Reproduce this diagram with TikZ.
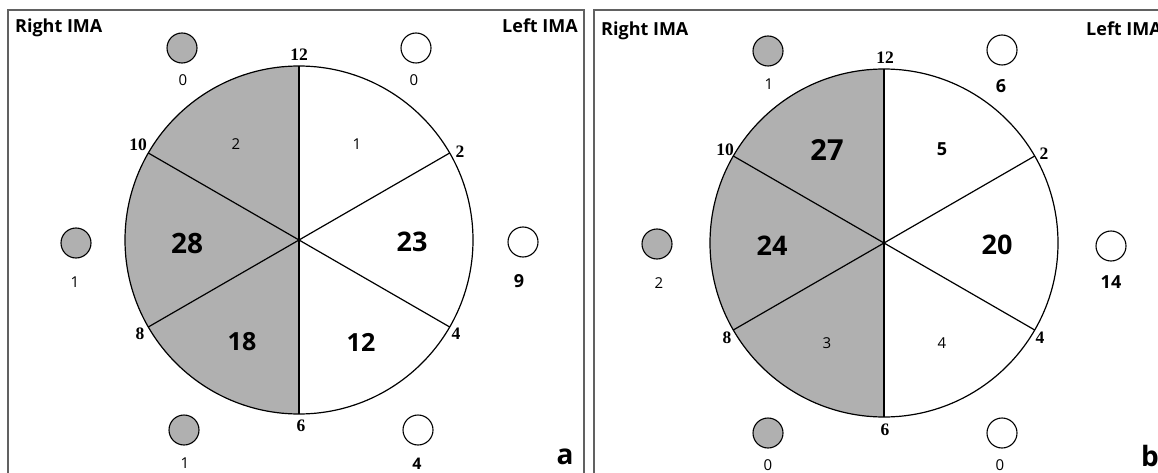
\documentclass[tikz,border=0pt]{standalone}
\usepackage{fontspec}
\setmainfont{Liberation Serif}
\newfontfamily\osans{Open Sans}
\begin{document}
\begin{tikzpicture}[x=1pt,y=-1pt,
  frame/.style={draw=black!62,line width=1.6pt},
  rimline/.style={draw=black,line width=1.2pt},
  shade/.style={fill=black!31},
  dotg/.style={circle,draw=black,line width=1.1pt,fill=black!31,minimum size=30pt,inner sep=0pt},
  dotw/.style={circle,draw=black,line width=1.1pt,fill=white,minimum size=30pt,inner sep=0pt},
  ima/.style={font=\osans\bfseries\fontsize{18}{20}\selectfont,inner sep=0pt},
  rim/.style={font=\bfseries\fontsize{17.5}{17.5}\selectfont,inner sep=0pt},
  big/.style={font=\osans\bfseries\fontsize{27}{27}\selectfont,inner sep=0pt},
  mid/.style={font=\osans\bfseries\fontsize{18}{18}\selectfont,inner sep=0pt},
  small/.style={font=\osans\fontsize{15}{15}\selectfont,inner sep=0pt},
  tag/.style={font=\osans\bfseries\fontsize{28}{28}\selectfont,inner sep=0pt}]
\useasboundingbox (0,0) rectangle (1158,473);
\clip (0,0) rectangle (1158,473);
\fill[white] (0,0) rectangle (1158,473);

% ---------- panel a ----------
\draw[frame] (8,490) -- (8,10) -- (584,10) -- (584,490);
\node[ima,anchor=base west] (aR) at (15,32.5) {Right IMA};
\node[ima,anchor=base east] (aL) at (578,32.5) {Left IMA};

\coordinate (ca) at (299,240);
\begin{scope}
  \clip (100,0) rectangle (299,473);
  \fill[shade] (ca) circle[radius=174];
\end{scope}
\coordinate (a12) at (299,66);
\coordinate (a6) at (299,414);
\coordinate (a10) at (148.3,153);
\coordinate (a2) at (449.7,153);
\coordinate (a8) at (148.3,327);
\coordinate (a4) at (449.7,327);
\draw[rimline] (ca) circle[radius=174];
\draw[rimline] (a12) -- (a6);
\draw[rimline] (a10) -- (a4);
\draw[rimline] (a2) -- (a8);

\node[rim] (la12) at (299,55) {12};
\node[rim] (la2) at (460,152) {2};
\node[rim] (la4) at (456,334) {4};
\node[rim] (la6) at (301,426) {6};
\node[rim] (la8) at (140,334) {8};
\node[rim] (la10) at (138,145) {10};

\node[small] (sa1) at (236,144) {2};
\node[small] (sa2) at (357,144) {1};
\node[big,font=\osans\bfseries\fontsize{28}{28}\selectfont] (sa3) at (187,243) {28};
\node[big] (sa4) at (412,242) {23};
\node[big,font=\osans\bfseries\fontsize{25}{25}\selectfont] (sa5) at (242,342) {18};
\node[big,font=\osans\bfseries\fontsize{25}{25}\selectfont] (sa6) at (361,342) {12};

\node[dotg] (da1) at (182,48) {};
\node[small] at (183,80) {0};
\node[dotw] (da2) at (416,48) {};
\node[small] at (414,80) {0};
\node[dotg] (da3) at (76,243) {};
\node[small] at (75,282) {1};
\node[dotw] (da4) at (523,242) {};
\node[mid] at (519,281) {9};
\node[dotg] (da5) at (184,430) {};
\node[small] at (185,463.5) {1};
\node[dotw] (da6) at (418,430) {};
\node[mid,font=\osans\bfseries\fontsize{16}{16}\selectfont] at (417,463.5) {4};
\node[tag] (ta) at (565,457) {a};

% ---------- panel b ----------
\draw[frame] (594,490) -- (594,10) -- (1170,10);
\node[ima,anchor=base west] (bR) at (601,35.5) {Right IMA};
\node[ima,anchor=base west] (bL) at (1086,35.5) {Left IMA};

\coordinate (cb) at (884,243);
\begin{scope}
  \clip (690,0) rectangle (884,473);
  \fill[shade] (cb) circle[radius=174];
\end{scope}
\coordinate (b12) at (884,69);
\coordinate (b6) at (884,417);
\coordinate (b10) at (733.3,156);
\coordinate (b2) at (1034.7,156);
\coordinate (b8) at (733.3,330);
\coordinate (b4) at (1034.7,330);
\draw[rimline] (cb) circle[radius=174];
\draw[rimline] (b12) -- (b6);
\draw[rimline] (b10) -- (b4);
\draw[rimline] (b2) -- (b8);

\node[rim] (lb12) at (885,58) {12};
\node[rim] (lb2) at (1044,154) {2};
\node[rim] (lb4) at (1040,338) {4};
\node[rim] (lb6) at (885,430) {6};
\node[rim] (lb8) at (727,338) {8};
\node[rim] (lb10) at (725,150) {10};

\node[big,font=\osans\bfseries\fontsize{29}{29}\selectfont] (sb1) at (827,150) {27};
\node[mid] (sb2) at (942,149) {5};
\node[big] (sb3) at (772,246) {24};
\node[big] (sb4) at (997,245) {20};
\node[small] (sb5) at (827,343) {3};
\node[small] (sb6) at (942,343) {4};

\node[dotg] (db1) at (768,51) {};
\node[small] at (769,84) {1};
\node[dotw] (db2) at (1002,50) {};
\node[mid] at (1001,86) {6};
\node[dotg] (db3) at (657,244) {};
\node[small] at (659,283) {2};
\node[dotw] (db4) at (1111,246) {};
\node[mid] at (1111,282) {14};
\node[dotg] (db5) at (768,433) {};
\node[small] at (768,465) {0};
\node[dotw] (db6) at (1002,433) {};
\node[small] at (1000,465) {0};
\node[tag] (tb) at (1150,456) {b};
\end{tikzpicture}
\end{document}
